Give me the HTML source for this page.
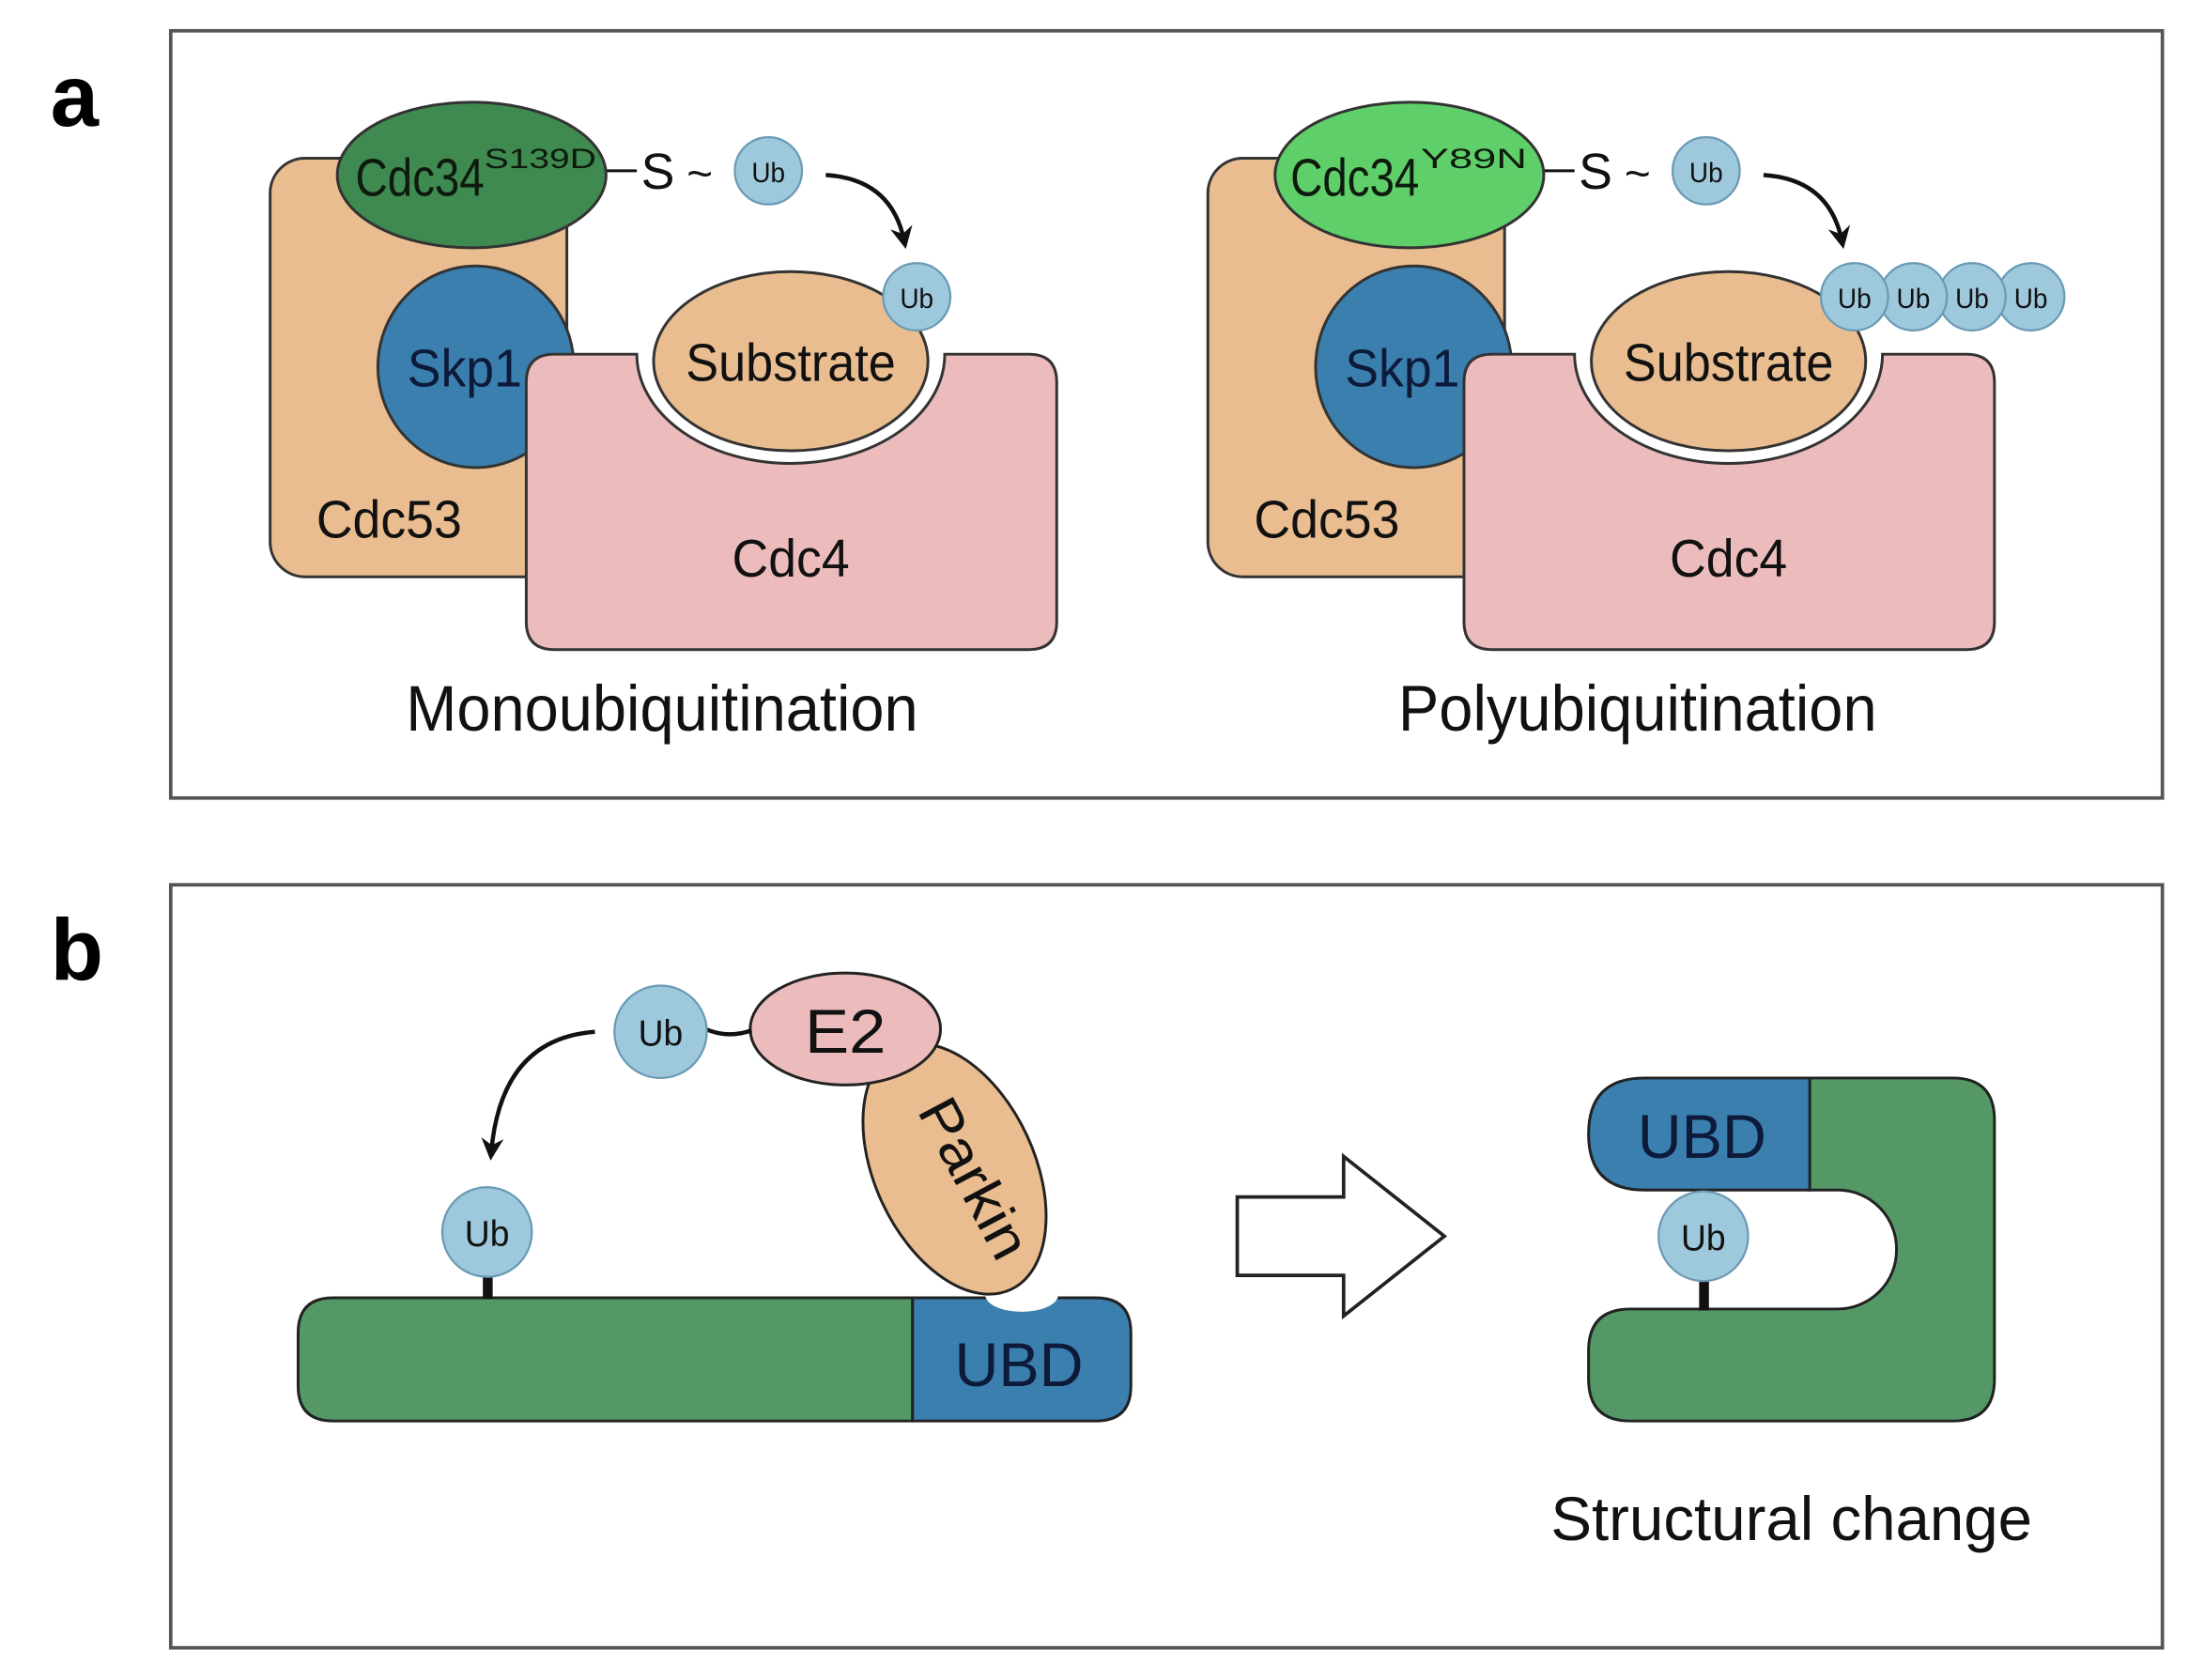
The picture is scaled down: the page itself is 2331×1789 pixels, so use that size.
<!DOCTYPE html>
<html><head><meta charset="utf-8"><style>
html,body{margin:0;padding:0;background:#fff;}
svg{display:block;}
text{font-family:"Liberation Sans",sans-serif;}
</style></head><body>
<svg width="2331" height="1789" viewBox="0 0 1564 1200" preserveAspectRatio="none" xmlns="http://www.w3.org/2000/svg">
<defs>
<marker id="ah" markerWidth="10" markerHeight="10" refX="6" refY="5" orient="auto" markerUnits="userSpaceOnUse" viewBox="0 0 10 10">
<path d="M0,0 L10,5 L0,10 L3,5Z" fill="#111"/></marker>
<marker id="ah2" markerWidth="16" markerHeight="16" refX="10" refY="8" orient="auto" markerUnits="userSpaceOnUse" viewBox="0 0 16 16">
<path d="M0,0 L16,8 L0,16 L5,8Z" fill="#111"/></marker>
</defs>
<rect width="1564" height="1200" fill="#fff"/>
<!-- panel a -->
<rect x="122" y="22" width="1423" height="548" fill="none" stroke="#555" stroke-width="2.5"/>
<text x="36" y="90" font-size="62" font-weight="bold">a</text>

<g id="left">
<rect x="193" y="113" width="212" height="299" rx="25" fill="#e9bd90" stroke="#333" stroke-width="2"/>
<ellipse cx="340" cy="262" rx="70" ry="72" fill="#3a7fae" stroke="#333" stroke-width="2"/>
<text x="332" y="276" font-size="38" text-anchor="middle" fill="#0d1a3a" textLength="82" lengthAdjust="spacingAndGlyphs">Skp1</text>
<path d="M396,253 L455,253 A110,78 0 0 0 675,253 L735,253 Q755,253 755,273 L755,444 Q755,464 735,464 L396,464 Q376,464 376,444 L376,273 Q376,253 396,253Z" fill="#ecbcbc" stroke="#333" stroke-width="2"/>
<ellipse cx="565" cy="258" rx="98" ry="64" fill="#e9bd90" stroke="#333" stroke-width="2"/>
<text x="565" y="272" font-size="38" text-anchor="middle" fill="#111" textLength="150" lengthAdjust="spacingAndGlyphs">Substrate</text>
<text x="278" y="384" font-size="38" text-anchor="middle" fill="#111" textLength="104" lengthAdjust="spacingAndGlyphs">Cdc53</text>
<text x="565" y="412" font-size="38" text-anchor="middle" fill="#111" textLength="84" lengthAdjust="spacingAndGlyphs">Cdc4</text>
<line x1="433" y1="122" x2="455" y2="122" stroke="#111" stroke-width="2"/>
<text x="470" y="135" font-size="36" text-anchor="middle" fill="#111">S</text>
<text x="500" y="135" font-size="32" text-anchor="middle" fill="#111">~</text>
<path d="M590,125 Q637,128 646,172" fill="none" stroke="#111" stroke-width="3" marker-end="url(#ah2)"/>
</g>
<ellipse cx="337" cy="125" rx="96" ry="52" fill="#3f8a50" stroke="#333" stroke-width="2"/>
<text x="254" y="140" font-size="38" fill="#0d1a0d" textLength="92" lengthAdjust="spacingAndGlyphs">Cdc34</text>
<text x="346" y="120" font-size="20" fill="#0d1a0d" textLength="80" lengthAdjust="spacingAndGlyphs">S139D</text>
<circle cx="549" cy="122" r="24" fill="#9ec8dc" stroke="#6a9ab5" stroke-width="1.5"/>
<text x="549" y="130" font-size="20" text-anchor="middle" fill="#111" textLength="24" lengthAdjust="spacingAndGlyphs">Ub</text>
<circle cx="655" cy="212" r="24" fill="#9ec8dc" stroke="#6a9ab5" stroke-width="1.5"/>
<text x="655" y="220" font-size="20" text-anchor="middle" fill="#111" textLength="24" lengthAdjust="spacingAndGlyphs">Ub</text>
<text x="473" y="522" font-size="46" text-anchor="middle" fill="#111" textLength="366" lengthAdjust="spacingAndGlyphs">Monoubiquitination</text>

<g transform="translate(670,0)">
<use href="#left"/>
</g>
<ellipse cx="1007" cy="125" rx="96" ry="52" fill="#5fcf6a" stroke="#333" stroke-width="2"/>
<text x="922" y="140" font-size="38" fill="#0d1a0d" textLength="92" lengthAdjust="spacingAndGlyphs">Cdc34</text>
<text x="1015" y="120" font-size="20" fill="#0d1a0d" textLength="76" lengthAdjust="spacingAndGlyphs">Y89N</text>
<circle cx="1219" cy="122" r="24" fill="#9ec8dc" stroke="#6a9ab5" stroke-width="1.5"/>
<text x="1219" y="130" font-size="20" text-anchor="middle" fill="#111" textLength="24" lengthAdjust="spacingAndGlyphs">Ub</text>
<g font-size="20" text-anchor="middle" fill="#111">
<circle cx="1451" cy="212" r="24" fill="#9ec8dc" stroke="#6a9ab5" stroke-width="1.5"/>
<text x="1451" y="220" textLength="24" lengthAdjust="spacingAndGlyphs">Ub</text>
<circle cx="1409" cy="212" r="24" fill="#9ec8dc" stroke="#6a9ab5" stroke-width="1.5"/>
<text x="1409" y="220" textLength="24" lengthAdjust="spacingAndGlyphs">Ub</text>
<circle cx="1367" cy="212" r="24" fill="#9ec8dc" stroke="#6a9ab5" stroke-width="1.5"/>
<text x="1367" y="220" textLength="24" lengthAdjust="spacingAndGlyphs">Ub</text>
<circle cx="1325" cy="212" r="24" fill="#9ec8dc" stroke="#6a9ab5" stroke-width="1.5"/>
<text x="1325" y="220" textLength="24" lengthAdjust="spacingAndGlyphs">Ub</text>
</g>
<text x="1170" y="522" font-size="46" text-anchor="middle" fill="#111" textLength="342" lengthAdjust="spacingAndGlyphs">Polyubiquitination</text>

<!-- panel b -->
<rect x="122" y="632" width="1423" height="545" fill="none" stroke="#555" stroke-width="2.5"/>
<text x="36" y="700" font-size="62" font-weight="bold">b</text>

<path d="M238,927 L652,927 L652,1015 L238,1015 Q213,1015 213,990 L213,952 Q213,927 238,927Z" fill="#549866" stroke="#222" stroke-width="2"/>
<path d="M652,927 L783,927 Q808,927 808,952 L808,990 Q808,1015 783,1015 L652,1015Z" fill="#3a7fae" stroke="#222" stroke-width="2"/>
<ellipse cx="730" cy="925" rx="26" ry="12" fill="#fff"/>
<text x="728" y="990" font-size="44" text-anchor="middle" fill="#0d1a3a" textLength="92" lengthAdjust="spacingAndGlyphs">UBD</text>
<rect x="345" y="905" width="7" height="23" fill="#111"/>
<circle cx="348" cy="880" r="32" fill="#9ec8dc" stroke="#6a9ab5" stroke-width="1.5"/>
<text x="348" y="890" font-size="26" text-anchor="middle" fill="#111" textLength="32" lengthAdjust="spacingAndGlyphs">Ub</text>

<ellipse cx="682" cy="835" rx="57" ry="95" transform="rotate(-25 682 835)" fill="#e9bd90" stroke="#222" stroke-width="2"/>
<text x="0" y="0" font-size="40" text-anchor="middle" fill="#111" transform="translate(684,848) rotate(62)" textLength="124" lengthAdjust="spacingAndGlyphs">Parkin</text>
<ellipse cx="604" cy="735" rx="68" ry="40" fill="#ecbcbc" stroke="#222" stroke-width="2"/>
<text x="604" y="752" font-size="44" text-anchor="middle" fill="#111" textLength="58" lengthAdjust="spacingAndGlyphs">E2</text>
<path d="M504,735 Q520,742 537,736" fill="none" stroke="#111" stroke-width="3"/>
<circle cx="472" cy="737" r="33" fill="#9ec8dc" stroke="#6a9ab5" stroke-width="1.5"/>
<text x="472" y="747" font-size="26" text-anchor="middle" fill="#111" textLength="32" lengthAdjust="spacingAndGlyphs">Ub</text>
<path d="M425,737 Q358,742 351,823" fill="none" stroke="#111" stroke-width="3" marker-end="url(#ah2)"/>

<polygon points="884,855 960,855 960,826 1032,883 960,940 960,911 884,911" fill="#fff" stroke="#222" stroke-width="2.5"/>

<path d="M1293,770 L1395,770 Q1425,770 1425,800 L1425,985 Q1425,1015 1395,1015 L1165,1015 Q1135,1015 1135,985 L1135,965 Q1135,935 1165,935 L1313,935 A42,42 0 0 0 1355,893 A42,42 0 0 0 1313,850 L1293,850Z" fill="#549866" stroke="#222" stroke-width="2"/>
<path d="M1293,770 L1293,850 L1175,850 Q1135,850 1135,810 Q1135,770 1175,770Z" fill="#3a7fae" stroke="#222" stroke-width="2"/>
<text x="1216" y="827" font-size="44" text-anchor="middle" fill="#0d1a3a" textLength="92" lengthAdjust="spacingAndGlyphs">UBD</text>
<rect x="1214" y="905" width="7" height="31" fill="#111"/>
<circle cx="1217" cy="883" r="32" fill="#9ec8dc" stroke="#6a9ab5" stroke-width="1.5"/>
<text x="1217" y="893" font-size="26" text-anchor="middle" fill="#111" textLength="32" lengthAdjust="spacingAndGlyphs">Ub</text>
<text x="1280" y="1100" font-size="44" text-anchor="middle" fill="#111" textLength="344" lengthAdjust="spacingAndGlyphs">Structural change</text>
</svg>
</body></html>
